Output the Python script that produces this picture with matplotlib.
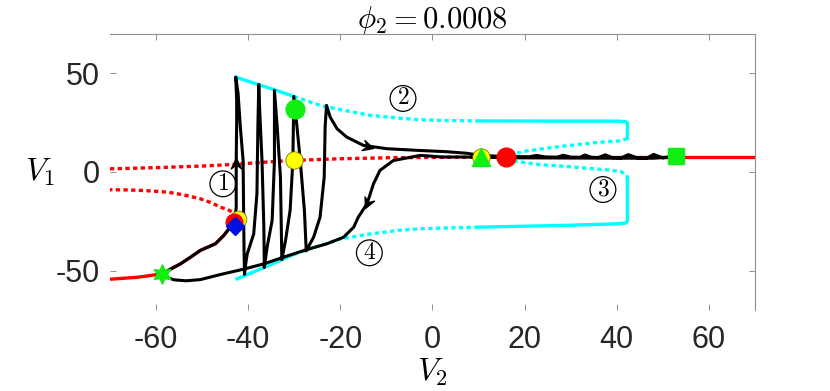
import numpy as np
import matplotlib
matplotlib.use('Agg')
import matplotlib.pyplot as plt
from matplotlib.path import Path
from matplotlib.markers import MarkerStyle
from matplotlib.transforms import Affine2D

plt.rcParams['font.family'] = ['Liberation Sans', 'DejaVu Sans']
plt.rcParams['mathtext.fontset'] = 'cm'

# equilibrium branches (V2, V1)
red_low_x = [-70, -64, -58.7, -56.8, -54.7, -52.5, -50.4, -47.1, -45.3, -43.9, -42.9]
red_low_y = [-54.4, -53.4, -51.7, -49.2, -46.6, -43.2, -39.8, -36.4, -32.2, -28.0, -24.0]
red_mid_x = [-42.9, -43.3, -44.5, -46.0, -48.0, -50.4, -54.0, -57.6, -62.0, -66.0, -70.0]
red_mid_y = [-23.5, -20.5, -19.0, -17.9, -15.6, -13.6, -11.6, -10.2, -9.5, -9.1, -9.0]
red_up_x = [-70, -60, -50, -43.5, -35, -30, -20, -10, 0, 7.4, 16]
red_up_y = [1.6, 2.2, 3.0, 3.8, 5.2, 5.9, 6.7, 7.2, 7.4, 7.5, 7.5]
red_right_x = [16, 30, 45, 53, 60, 70]
red_right_y = [7.5, 7.5, 7.5, 7.5, 7.5, 7.5]

# periodic orbit envelopes
cyan_solid = [
    ([-42.7, -38.0, -34.0, -30.1], [48.1, 44.5, 41.5, 38.3]),
    ([10, 25, 40, 41.8, 42.3, 42.3], [25.9, 25.8, 25.8, 25.6, 25.0, 17.0]),
    ([42.3, 42.3, 42.0, 40.0, 30.0, 20.0, 10.0], [-2.6, -25.0, -25.9, -26.3, -27.0, -27.5, -28.0]),
    ([-30.1, -36.0, -42.4], [-41.8, -47.9, -54.2]),
]
cyan_dotted = [
    ([-30.1, -24.4, -20.0, -13.5, -7.0, -2.7, 3.0, 10.0], [38.3, 33.8, 31.6, 28.7, 27.3, 26.5, 26.1, 25.9]),
    ([42.3, 41.0, 36.3, 30.0, 25.5, 20.0, 16.0], [17.0, 15.8, 15.1, 13.5, 12.3, 10.5, 8.0]),
    ([16.0, 18.3, 23.0, 29.1, 34.0, 37.8, 41.0, 42.3], [7.0, 5.3, 3.8, 2.8, 1.8, 1.1, 0.2, -2.6]),
    ([10.0, 3.0, -2.7, -7.0, -13.5, -20.0, -24.4, -26.5, -30.1], [-28.0, -28.4, -28.8, -29.5, -31.4, -34.0, -37.3, -39.0, -41.8]),
]

# bursting trajectory
traj_x = [-58.7, -56.8, -54.7, -52.5, -50.4, -47.1, -45.3, -43.9, -42.9, -42.6, -42.6, -42.6, -42.5, -42.5, -42.7,
          -42.2, -41.7, -41.1, -41.0, -40.9, -40.8,
          -40.5, -40.2, -38.8, -38.1, -37.9, -37.7,
          -37.5, -37.0, -36.6, -36.5,
          -35.9, -34.8, -34.3, -34.3,
          -33.7, -33.0, -32.8, -32.7,
          -31.9, -30.9, -30.3, -30.1,
          -29.4, -28.7, -27.8, -27.4,
          -25.8, -24.4, -23.5, -23.3, -23.0,
          -22.2, -20.7, -18.6, -15.0, -9.9, -2.7, 3.0, 7.4, 10.0,
          14, 18, 21, 22.6, 24.5, 27, 28.4, 30, 32, 33.1, 34.5, 36, 37.5, 39, 41, 42.5, 44.5, 46.5, 48, 50, 51.5,
          48, 40, 30, 20, 12, 6, 2, 0,
          -2.7, -8.5, -11.4, -12.8, -14.2, -16.1, -17.1, -19.3, -22.9, -27.2, -32.3, -36.6, -41.0,
          -46.0, -50.4, -53.5, -56.1, -57.8, -58.7]
traj_y = [-51.7, -49.2, -46.6, -43.2, -39.8, -36.4, -32.2, -28.0, -24.0, -18.0, -5.0, 5.8, 25.0, 36.3, 48.1,
          40.0, 22.7, 5.8, -19.5, -40.0, -52.0,
          -46.0, -41.5, -31.4, -11.0, 22.7, 44.4,
          31.2, 5.8, -28.0, -48.5,
          -38.2, -24.6, 5.8, 41.4,
          22.7, -2.6, -30.0, -44.5,
          -34.8, -19.5, 5.8, 38.3,
          22.7, 5.8, -19.5, -40.0,
          -33.1, -22.9, -2.6, 22.7, 33.8,
          27.8, 21.9, 17.7, 13.5, 11.8, 10.9, 10.3, 9.5, 8.6,
          8.0, 7.8, 7.7, 8.4, 7.6, 7.5, 8.5, 7.5, 7.4, 8.6, 7.4, 7.3, 8.7, 7.3, 7.2, 8.8, 7.1, 7.0, 8.9, 7.1, 7.6,
          7.0, 7.0, 7.1, 7.2, 7.4, 7.6, 7.6, 8.0,
          8.4, 5.8, 0.8, -6.0, -16.1, -22.9, -28.0, -33.1, -36.4, -39.3, -43.2, -46.6, -49.3,
          -52.0, -54.6, -55.2, -54.7, -53.3, -51.7]

# arrowheads: tip and direction
arrow_x = [-42.6, -13.0, -14.6]
arrow_y = [7.0, 12.0, -18.5]
arrow_dx = [0.0, 8.7, -3.3]
arrow_dy = [1.0, -5.9, -16.9]

labels = ['1', '2', '3', '4']
label_x = [-45.5, -6.4, 37.0, -13.7]
label_y = [-6.0, 37.3, -8.9, -41.0]

fig = plt.figure(figsize=(8.3, 3.91), dpi=100)
ax = fig.add_axes([0.1325, 0.2072, 0.7771, 0.7059])
ax.set_xlim(-70, 70)
ax.set_ylim(-70, 70)

dot = dict(linestyle=(0, (1.3, 1.0)), dash_capstyle='butt', lw=2.4)
for xs, ys in cyan_solid:
    ax.plot(xs, ys, color='cyan', lw=2.4, solid_joinstyle='round')
for xs, ys in cyan_dotted:
    ax.plot(xs, ys, color='cyan', **dot)

ax.plot(red_low_x, red_low_y, color='red', lw=2.4)
ax.plot(red_right_x, red_right_y, color='red', lw=2.4)
ax.plot(red_mid_x, red_mid_y, color='red', **dot)
ax.plot(red_up_x, red_up_y, color='red', **dot)

ax.plot(traj_x, traj_y, color='black', lw=2.2, solid_joinstyle='round')

head = Path([(0, 0), (-1, 0.5), (-0.6, 0), (-1, -0.5), (0, 0)],
            [Path.MOVETO, Path.LINETO, Path.LINETO, Path.LINETO, Path.CLOSEPOLY])
for x, y, dx, dy in zip(arrow_x, arrow_y, arrow_dx, arrow_dy):
    p0 = ax.transData.transform((x, y))
    p1 = ax.transData.transform((x + dx, y + dy))
    ang = np.degrees(np.arctan2(p1[1] - p0[1], p1[0] - p0[0]))
    m = MarkerStyle(head, transform=Affine2D().rotate_deg(ang))
    ax.plot(x, y, marker=m, ms=15, color='black', mec='black', ls='none')

# special points
ax.plot(-42.3, -24.0, 'o', ms=12, mfc='yellow', mec='#7a7a00', mew=0.6)
ax.plot(-43.0, -25.3, 'o', ms=12, mfc='red', mec='red')
ax.plot(-42.8, -27.5, 'D', ms=9, mfc='#0010e0', mec='#0010e0')
ax.plot(-30.0, 6.0, 'o', ms=12.5, mfc='yellow', mec='#7a7a00', mew=0.6)
ax.plot(-29.9, 32.1, 'o', ms=13.5, mfc='#11ee11', mec='#11ee11')
ax.plot(10.5, 7.5, 'o', ms=12.5, mfc='yellow', mec='#7a7a00', mew=0.6)
ax.plot(10.5, 7.5, '^', ms=13, mfc='#11ee11', mec='#11ee11')
ax.plot(15.9, 7.5, 'o', ms=13.5, mfc='red', mec='red')
ax.plot(52.9, 8.2, 's', ms=11.5, mfc='#11ee11', mec='#11ee11')
ax.plot(-58.7, -51.7, marker=(6, 1, 0), ms=14, mfc='#11ee11', mec='#11ee11', ls='none')

# circled labels
for t, x, y in zip(labels, label_x, label_y):
    ax.text(x, y, r'$\mathrm{%s}$' % t, fontsize=17, ha='center', va='center',
            bbox=dict(boxstyle='circle,pad=0.08', fc='none', ec='black', lw=0.9))

ax.set_xticks([-60, -40, -20, 0, 20, 40, 60])
ax.set_xticklabels(['-60', '-40', '-20', '0', '20', '40', '60'])
ax.set_yticks([-50, 0, 50])
ax.set_yticklabels(['-50', '0', '50'])
ax.tick_params(direction='in', length=4.5, width=0.7, color='#909090',
               labelsize=22, labelcolor='#262626', top=True, right=True)
ax.tick_params(axis='x', pad=11)
ax.tick_params(axis='y', pad=7)
for s in ['left', 'bottom']:
    ax.spines[s].set_visible(False)
for s in ['top', 'right']:
    ax.spines[s].set_color('#909090')
    ax.spines[s].set_linewidth(0.8)

ax.set_title(r'$\phi_2 = 0.0008$', fontsize=22, pad=4)
ax.set_ylabel(r'$V_1$', fontsize=23, rotation=0, ha='center', va='center')
ax.yaxis.set_label_coords(-0.108, 0.5)
ax.set_xlabel(r'$V_2$', fontsize=23, va='center')
ax.xaxis.set_label_coords(0.5, -0.225)

fig.savefig('out.png', dpi=100)
